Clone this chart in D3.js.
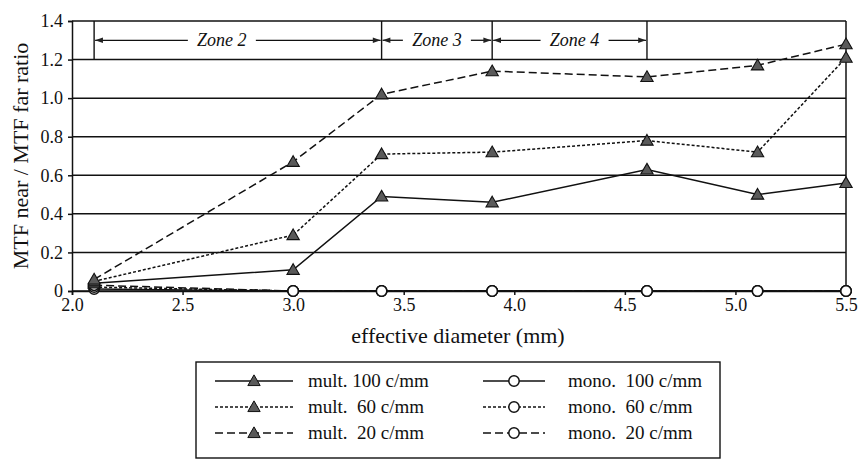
<!DOCTYPE html>
<html>
<head>
<meta charset="utf-8">
<script src="https://cdn.jsdelivr.net/npm/d3@7"></script>
</head>
<body style="margin:0">
<svg id="chart" width="861" height="464"></svg>
<script>
// Effective diameters (mm) at which the MTF ratio was measured
const diameters = [2.1, 3.0, 3.4, 3.9, 4.6, 5.1, 5.5];

// MTF near / MTF far ratio, multifocal lens
const mult100 = [0.04, 0.11, 0.49, 0.46, 0.63, 0.50, 0.56];
const mult60  = [0.05, 0.29, 0.71, 0.72, 0.78, 0.72, 1.21];
const mult20  = [0.06, 0.67, 1.02, 1.14, 1.11, 1.17, 1.28];

// MTF near / MTF far ratio, monofocal lens
const mono100 = [0.01, 0, 0, 0, 0, 0, 0];
const mono60  = [0.02, 0, 0, 0, 0, 0, 0];
const mono20  = [0.03, 0, 0, 0, 0, 0, 0];

// Axis ticks
const xTicks = [2.0, 2.5, 3.0, 3.5, 4.0, 4.5, 5.0, 5.5];
const yTicks = [0, 0.2, 0.4, 0.6, 0.8, 1.0, 1.2, 1.4];

// Pupil zones: label and diameter range
const zoneNames  = ["Zone 2", "Zone 3", "Zone 4"];
const zoneStarts = [2.1, 3.4, 3.9];
const zoneEnds   = [3.4, 3.9, 4.6];

const seriesNames = ["mult. 100 c/mm", "mult.  60 c/mm", "mult.  20 c/mm",
                     "mono.  100 c/mm", "mono.  60 c/mm", "mono.  20 c/mm"];

const dashSolid = null, dashShort = "3,2", dashLong = "8,4";
const series = [
  { name: seriesNames[0], values: mult100, marker: "tri", dash: dashSolid },
  { name: seriesNames[1], values: mult60,  marker: "tri", dash: dashShort },
  { name: seriesNames[2], values: mult20,  marker: "tri", dash: dashLong },
  { name: seriesNames[3], values: mono100, marker: "circ", dash: dashSolid },
  { name: seriesNames[4], values: mono60,  marker: "circ", dash: dashShort },
  { name: seriesNames[5], values: mono20,  marker: "circ", dash: dashLong }
];

const svg = d3.select("#chart");
const plotL = 72, plotR = 846, plotT = 21, plotB = 291;
const ink = "#111";
const serifFace = "Liberation Serif";

const x = d3.scaleLinear().domain([2.0, 5.5]).range([plotL, plotR]);
const y = d3.scaleLinear().domain([0, 1.4]).range([plotB, plotT]);

// Every label uses the serif face
function label(sel, size) {
  return sel.style("font-family", serifFace).attr("font-size", size).attr("fill", ink);
}

// Horizontal grid lines
svg.append("g").selectAll("line").data(yTicks).join("line")
  .attr("x1", plotL).attr("x2", plotR)
  .attr("y1", d => y(d)).attr("y2", d => y(d))
  .attr("stroke", ink).attr("stroke-width", 1.5);

// Right frame line
svg.append("line")
  .attr("x1", plotR).attr("x2", plotR).attr("y1", plotT).attr("y2", plotB)
  .attr("stroke", ink).attr("stroke-width", 1.5);

// Y axis
const yAxis = d3.axisLeft(y).tickValues(yTicks).tickSize(4).tickPadding(5)
  .tickFormat(d => d === 0 ? "0" : d3.format(".1f")(d));
const gy = svg.append("g").attr("transform", `translate(${plotL},0)`).call(yAxis);
gy.attr("font-family", null).attr("font-size", null);
gy.select(".domain").attr("stroke", ink).attr("stroke-width", 1.5);
gy.selectAll(".tick line").attr("stroke", ink).attr("stroke-width", 1.5);
label(gy.selectAll("text"), 18);

// X axis
const xAxis = d3.axisBottom(x).tickValues(xTicks).tickSize(4).tickPadding(3)
  .tickFormat(d3.format(".1f"));
const gx = svg.append("g").attr("transform", `translate(0,${plotB})`).call(xAxis);
gx.attr("font-family", null).attr("font-size", null);
gx.select(".domain").attr("stroke", ink).attr("stroke-width", 1.5);
gx.selectAll(".tick line").attr("stroke", ink).attr("stroke-width", 1.5);
label(gx.selectAll("text"), 18);

// Axis titles
label(svg.append("text"), 22)
  .attr("x", (plotL + plotR) / 2 - 1).attr("y", 343)
  .attr("text-anchor", "middle")
  .text("effective diameter (mm)");
label(svg.append("text"), 22)
  .attr("transform", `translate(28,${(plotT + plotB) / 2}) rotate(-90)`)
  .attr("text-anchor", "middle")
  .text("MTF near / MTF far ratio");

// Zone band: vertical separators between 1.2 and 1.4
const zoneEdges = zoneStarts.concat([zoneEnds[zoneEnds.length - 1]]);
svg.append("g").selectAll("line").data(zoneEdges).join("line")
  .attr("x1", d => x(d)).attr("x2", d => x(d))
  .attr("y1", y(1.4)).attr("y2", y(1.2))
  .attr("stroke", ink).attr("stroke-width", 1.4);

// Arrowhead used for the zone extents
const defs = svg.append("defs");
defs.append("marker").attr("id", "arrow")
  .attr("viewBox", "0 0 10 10").attr("refX", 10).attr("refY", 5)
  .attr("markerWidth", 7).attr("markerHeight", 6).attr("orient", "auto")
  .append("path").attr("d", "M0,1.5 L10,5 L0,8.5 Z").attr("fill", "#222");

// Horizontal nudge of each zone label from the middle of its span
const zoneLabelShift = [-16, 0, 5];
const zoneLabelHalf = 34;   // half the label width plus the gap to the arrows
const zoneY = y(1.3);
zoneNames.forEach((name, i) => {
  const x0 = x(zoneStarts[i]), x1 = x(zoneEnds[i]);
  const cx = (x0 + x1) / 2 + zoneLabelShift[i];
  label(svg.append("text"), 18)
    .attr("x", cx).attr("y", zoneY + 6)
    .attr("text-anchor", "middle")
    .attr("font-style", "italic")
    .text(name);
  svg.append("line")
    .attr("x1", cx - zoneLabelHalf).attr("x2", x0 + 1)
    .attr("y1", zoneY).attr("y2", zoneY)
    .attr("stroke", ink).attr("stroke-width", 1.3)
    .attr("marker-end", "url(#arrow)");
  svg.append("line")
    .attr("x1", cx + zoneLabelHalf).attr("x2", x1 - 1)
    .attr("y1", zoneY).attr("y2", zoneY)
    .attr("stroke", ink).attr("stroke-width", 1.3)
    .attr("marker-end", "url(#arrow)");
});

// Data lines and markers
const line = d3.line().x((d, i) => x(diameters[i])).y(d => y(d));
const triPath = d3.symbol().type(d3.symbolTriangle).size(66);

// Monofocal first so the multifocal markers sit on top
const drawOrder = [3, 4, 5, 0, 1, 2];
drawOrder.forEach(k => {
  const s = series[k];
  svg.append("path").datum(s.values)
    .attr("d", line).attr("fill", "none")
    .attr("stroke", ink).attr("stroke-width", 1.5)
    .attr("stroke-dasharray", s.dash);
});
drawOrder.forEach(k => {
  const s = series[k];
  const g = svg.append("g");
  if (s.marker === "tri") {
    g.selectAll("path").data(s.values).join("path")
      .attr("transform", (d, i) => `translate(${x(diameters[i])},${y(d) + 1})`)
      .attr("d", triPath)
      .attr("fill", "#5a5a5a").attr("stroke", ink).attr("stroke-width", 1.1);
  } else {
    g.selectAll("circle").data(s.values).join("circle")
      .attr("cx", (d, i) => x(diameters[i])).attr("cy", d => y(d))
      .attr("r", 5.2)
      .attr("fill", "#fff").attr("stroke", ink).attr("stroke-width", 1.5);
  }
});

// Legend
const lg = svg.append("g");
const boxX = 196, boxY = 362, boxW = 524, boxH = 96;
lg.append("rect").attr("x", boxX).attr("y", boxY)
  .attr("width", boxW).attr("height", boxH)
  .attr("fill", "#fff").attr("stroke", ink).attr("stroke-width", 1.4);

const rowY = [381, 407, 433];
const colX = [215, 483];       // left end of each line sample
const sampleW = [78, 62];
const textX = [308, 568];
series.forEach((s, k) => {
  const col = k < 3 ? 0 : 1;
  const row = k % 3;
  const lx = colX[col], ly = rowY[row];
  lg.append("line")
    .attr("x1", lx).attr("x2", lx + sampleW[col]).attr("y1", ly).attr("y2", ly)
    .attr("stroke", ink).attr("stroke-width", 1.5)
    .attr("stroke-dasharray", s.dash);
  const mx = lx + sampleW[col] / 2;
  if (s.marker === "tri") {
    lg.append("path").attr("transform", `translate(${mx},${ly + 1})`)
      .attr("d", triPath).attr("fill", "#5a5a5a").attr("stroke", ink);
  } else {
    lg.append("circle").attr("cx", mx).attr("cy", ly).attr("r", 5.2)
      .attr("fill", "#fff").attr("stroke", ink).attr("stroke-width", 1.5);
  }
  label(lg.append("text"), 19)
    .attr("x", textX[col]).attr("y", ly + 6)
    .style("white-space", "pre")
    .text(s.name);
});
</script>
</body>
</html>
